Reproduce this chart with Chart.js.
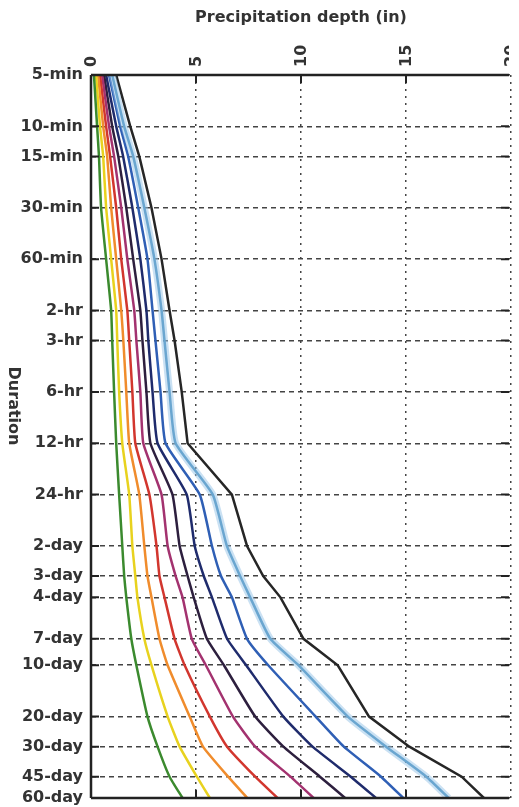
<!DOCTYPE html>
<html>
<head>
<meta charset="utf-8">
<script src="https://cdn.jsdelivr.net/npm/chart.js@4.4.1/dist/chart.umd.min.js"></script>
<style>
html, body { margin: 0; padding: 0; background: #fff; overflow: hidden; }
</style>
</head>
<body>
<canvas id="ddf" width="519" height="807"></canvas>
<script>
// durations (minutes) and their labels on the left axis
const durations = [5, 10, 15, 30, 60, 120, 180, 360, 720, 1440, 2880, 4320, 5760, 10080, 14400, 28800, 43200, 64800, 86400];
const durationLabels = ['5-min', '10-min', '15-min', '30-min', '60-min', '2-hr', '3-hr', '6-hr', '12-hr', '24-hr',
    '2-day', '3-day', '4-day', '7-day', '10-day', '20-day', '30-day', '45-day', '60-day'];
const depthTicks = [0, 5, 10, 15, 20];

// precipitation depth (in) for each curve, one value per duration
const depthGreen = [0.14, 0.29, 0.38, 0.48, 0.72, 0.96, 1.01, 1.10, 1.20, 1.34, 1.49, 1.58, 1.68, 1.92, 2.16, 2.69, 3.17, 3.74, 4.36];
const depthYellow = [0.24, 0.43, 0.58, 0.72, 0.96, 1.20, 1.25, 1.34, 1.49, 1.82, 1.97, 2.11, 2.21, 2.54, 2.88, 3.65, 4.22, 5.04, 5.66];
const depthOrange = [0.34, 0.58, 0.77, 0.96, 1.20, 1.44, 1.54, 1.68, 1.82, 2.30, 2.54, 2.69, 2.88, 3.26, 3.65, 4.70, 5.33, 6.53, 7.44];
const depthRed = [0.43, 0.72, 0.91, 1.20, 1.44, 1.73, 1.82, 1.97, 2.11, 2.78, 3.12, 3.26, 3.50, 3.98, 4.46, 5.66, 6.48, 7.82, 8.88];
const depthMagenta = [0.53, 0.86, 1.10, 1.44, 1.73, 2.06, 2.16, 2.35, 2.49, 3.36, 3.65, 4.03, 4.36, 4.80, 5.47, 6.76, 7.82, 9.50, 10.6];
const depthPurple = [0.62, 1.01, 1.30, 1.68, 2.01, 2.35, 2.45, 2.64, 2.83, 3.88, 4.22, 4.60, 4.89, 5.52, 6.33, 7.82, 9.16, 10.9, 12.1];
const depthNavy = [0.72, 1.20, 1.53, 1.97, 2.35, 2.64, 2.73, 2.93, 3.17, 4.56, 4.94, 5.37, 5.76, 6.48, 7.39, 9.16, 10.55, 12.37, 13.57];
const depthBlue = [0.86, 1.39, 1.77, 2.25, 2.69, 2.93, 3.07, 3.31, 3.55, 5.18, 5.76, 6.19, 6.71, 7.43, 8.44, 10.7, 12.04, 13.81, 14.87];
const depthLightBlue = [1.01, 1.58, 2.01, 2.54, 3.02, 3.36, 3.50, 3.74, 4.03, 5.80, 6.47, 7.10, 7.58, 8.54, 9.88, 12.23, 14.05, 15.97, 17.03];
const depthBlack = [1.20, 1.87, 2.30, 2.88, 3.36, 3.74, 3.98, 4.32, 4.60, 6.71, 7.43, 8.20, 9.02, 10.12, 11.75, 13.24, 15.16, 17.65, 18.71];

const textColor = '#333';
const tickFont = { family: 'DejaVu Sans', size: 16, weight: 'bold' };

function toPoints(depths) {
    return depths.map((d, i) => ({ x: d, y: durations[i] }));
}

const curves = [
    { data: depthGreen, color: '#3b8a2e' },
    { data: depthYellow, color: '#e8d21e' },
    { data: depthOrange, color: '#f08c2c' },
    { data: depthRed, color: '#d2362e' },
    { data: depthMagenta, color: '#a3326f' },
    { data: depthPurple, color: '#2d1f3e' },
    { data: depthNavy, color: '#1f2b6c' },
    { data: depthBlue, color: '#2f5fb5' },
    { data: depthLightBlue, color: '#3f88b8' },
    { data: depthBlack, color: '#262626', tension: 0 }
];

const datasets = [];
// pale halo behind the light blue curve
datasets.push({
    data: toPoints(depthLightBlue),
    borderColor: 'rgba(150,195,232,0.5)',
    borderWidth: 7,
    pointRadius: 0,
    tension: 0.15
});
curves.forEach(c => {
    datasets.push({
        data: toPoints(c.data),
        borderColor: c.color,
        borderWidth: 2.5,
        pointRadius: 0,
        tension: c.tension !== undefined ? c.tension : 0.15
    });
});

// frame, inward tick marks, depth labels and the rotated "Duration" title
const extras = {
    id: 'extras',
    afterDraw(chart) {
        const { ctx, chartArea: a, scales } = chart;
        ctx.save();
        ctx.beginPath();
        ctx.rect(0, 0, 509, chart.height);
        ctx.clip();

        ctx.strokeStyle = '#222';
        ctx.lineWidth = 2.5;
        ctx.beginPath();
        ctx.moveTo(a.left, a.top); ctx.lineTo(a.right, a.top);
        ctx.moveTo(a.left, a.bottom); ctx.lineTo(a.right, a.bottom);
        ctx.moveTo(a.left, a.top); ctx.lineTo(a.left, a.bottom);
        ctx.stroke();

        ctx.lineWidth = 2;
        ctx.beginPath();
        scales.x.ticks.forEach(t => {
            const x = scales.x.getPixelForValue(t.value);
            ctx.moveTo(x, a.top); ctx.lineTo(x, a.top + 8);
            ctx.moveTo(x, a.bottom); ctx.lineTo(x, a.bottom - 8);
        });
        scales.y.ticks.forEach(t => {
            const y = scales.y.getPixelForValue(t.value);
            ctx.moveTo(a.left, y); ctx.lineTo(a.left + 8, y);
            ctx.moveTo(a.right - 10, y); ctx.lineTo(a.right, y);
        });
        ctx.stroke();

        ctx.fillStyle = textColor;
        ctx.font = 'bold 16px "DejaVu Sans"';
        ctx.textAlign = 'left';
        ctx.textBaseline = 'middle';
        scales.x.ticks.forEach(t => {
            const x = scales.x.getPixelForValue(t.value);
            ctx.save();
            ctx.translate(x + 1, a.top - 8);
            ctx.rotate(-Math.PI / 2);
            ctx.fillText(String(t.value), 0, 0);
            ctx.restore();
        });

        ctx.translate(13, 406);
        ctx.rotate(Math.PI / 2);
        ctx.textAlign = 'center';
        ctx.fillText('Duration', 0, 0);
        ctx.restore();
    }
};

new Chart('ddf', {
    type: 'line',
    data: { datasets },
    options: {
        responsive: false,
        animation: false,
        devicePixelRatio: 1,
        layout: { padding: { left: 0, right: 8, top: 0, bottom: 9 } },
        plugins: { legend: { display: false }, tooltip: { enabled: false } },
        scales: {
            x: {
                type: 'linear',
                position: 'top',
                min: 0,
                max: 20,
                afterBuildTicks: s => { s.ticks = depthTicks.map(v => ({ value: v })); },
                afterFit: s => { s.height = 75; },
                ticks: { display: false },
                grid: { color: '#444', lineWidth: 1.5, drawTicks: false },
                border: { display: false, dash: [2, 5] },
                title: {
                    display: true,
                    text: 'Precipitation depth (in)',
                    font: { family: 'DejaVu Sans', size: 16, weight: 'bold' },
                    color: textColor,
                    padding: { top: 8, bottom: 0 }
                }
            },
            y: {
                type: 'logarithmic',
                reverse: true,
                min: 5,
                max: 86400,
                afterBuildTicks: s => { s.ticks = durations.map(v => ({ value: v })); },
                afterFit: s => { s.width = 91; s.paddingTop = 0; s.paddingBottom = 0; },
                ticks: {
                    autoSkip: false,
                    padding: 8,
                    font: tickFont,
                    color: textColor,
                    callback: (v, i) => durationLabels[i]
                },
                grid: { color: '#444', lineWidth: 1.5, drawTicks: false },
                border: { display: false, dash: [5, 4] }
            }
        }
    },
    plugins: [extras]
});
</script>
</body>
</html>
